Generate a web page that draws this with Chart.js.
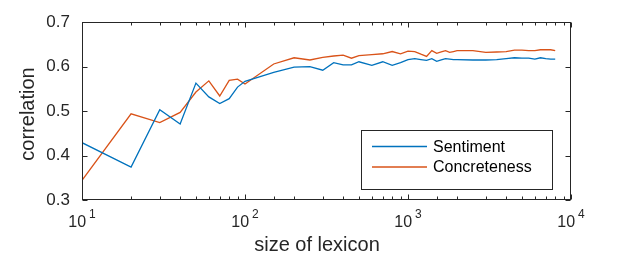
<!DOCTYPE html>
<html lang="en">
<head>
<meta charset="UTF-8">
<title>Lexicon size vs correlation</title>
<script src="https://cdn.jsdelivr.net/npm/chart.js@4"></script>
<style>
  html, body { margin: 0; padding: 0; background: #ffffff; }
  #grafico { display: block; }
</style>
</head>
<body>
<canvas id="grafico" width="630" height="263"></canvas>

<script>
  // dados
  var lexiconSize = [10, 20, 30, 40, 50, 60, 70, 80, 90, 100,
    150, 200, 250, 300, 350, 400, 450, 500, 600, 700, 800, 900, 1000,
    1100, 1200, 1300, 1400, 1500, 1600, 1700, 1800, 1900, 2000,
    2500, 3000, 3500, 4000, 4500, 5000, 5500, 6000, 6500, 7000, 7500, 8000];

  var sentiment = [0.429, 0.374, 0.503, 0.471, 0.563, 0.532, 0.517, 0.528, 0.554, 0.567,
    0.587, 0.599, 0.600, 0.592, 0.609, 0.604, 0.604, 0.611, 0.603, 0.611, 0.603, 0.609, 0.616,
    0.618, 0.616, 0.614, 0.618, 0.612, 0.615, 0.618, 0.617, 0.616, 0.616,
    0.615, 0.615, 0.616, 0.618, 0.620, 0.619, 0.619, 0.617, 0.620, 0.618, 0.617, 0.617];

  var concreteness = [0.344, 0.494, 0.474, 0.497, 0.543, 0.568, 0.534, 0.569, 0.572, 0.561,
    0.606, 0.620, 0.615, 0.621, 0.624, 0.626, 0.619, 0.625, 0.627, 0.629, 0.634, 0.629, 0.635,
    0.634, 0.628, 0.623, 0.636, 0.630, 0.633, 0.636, 0.632, 0.634, 0.636,
    0.636, 0.632, 0.633, 0.634, 0.637, 0.637, 0.636, 0.636, 0.638, 0.638, 0.638, 0.636];

  var seriesNames = ['Sentiment', 'Concreteness'];
  var seriesColors = ['#0072BD', '#D95319'];

  var yTicks = [0.3, 0.4, 0.5, 0.6, 0.7];
  var xTicks = [10, 100, 1000, 10000];
  var xTickExponents = ['1', '2', '3', '4'];

  var xTitle = 'size of lexicon';
  var yTitle = 'correlation';

  var fonte = '"Liberation Sans", Arial, Helvetica, sans-serif';
  var corEixo = '#262626';

  function pontos(valores) {
    return lexiconSize.map(function (x, i) { return { x: x, y: valores[i] }; });
  }

  // caixa, ticks para dentro, rotulos 10^n, titulos e legenda
  var estiloMatlab = {
    id: 'estiloMatlab',
    afterDraw: function (chart) {
      var ctx = chart.ctx;
      var area = chart.chartArea;
      var xs = chart.scales.x;
      var ys = chart.scales.y;
      ctx.save();
      ctx.strokeStyle = corEixo;
      ctx.lineWidth = 1;

      var L = Math.round(area.left) + 0.5;
      var R = Math.round(area.right) - 0.5;
      var T = Math.round(area.top) + 0.5;
      var B = Math.round(area.bottom) - 0.5;
      ctx.strokeRect(L, T, R - L, B - T);

      ctx.beginPath();
      yTicks.forEach(function (v) {
        var py = Math.round(ys.getPixelForValue(v)) + 0.5;
        ctx.moveTo(L, py); ctx.lineTo(L + 5, py);
        ctx.moveTo(R, py); ctx.lineTo(R - 5, py);
      });
      xs.ticks.forEach(function (t) {
        var px = Math.round(xs.getPixelForValue(t.value)) + 0.5;
        var maior = xTicks.indexOf(t.value) >= 0;
        var len = maior ? 5 : 3;
        ctx.moveTo(px, B); ctx.lineTo(px, B - len);
        ctx.moveTo(px, T); ctx.lineTo(px, T + len);
      });
      ctx.stroke();

      // rotulos do eixo x com expoente
      ctx.fillStyle = corEixo;
      ctx.textBaseline = 'alphabetic';
      xTicks.forEach(function (v, i) {
        var px = xs.getPixelForValue(v);
        ctx.font = '16px ' + fonte;
        var wBase = ctx.measureText('10').width;
        ctx.font = '12px ' + fonte;
        var wExp = ctx.measureText(xTickExponents[i]).width;
        var total = wBase + 3 + wExp;
        var x0 = px - total / 2;
        ctx.font = '16px ' + fonte;
        ctx.textAlign = 'left';
        ctx.fillText('10', x0, 227);
        ctx.font = '12px ' + fonte;
        ctx.fillText(xTickExponents[i], x0 + wBase + 3, 218);
      });

      // titulos
      ctx.font = '20px ' + fonte;
      ctx.textAlign = 'center';
      ctx.textBaseline = 'middle';
      ctx.fillText(xTitle, 317, 245);
      ctx.save();
      ctx.translate(28, 114);
      ctx.rotate(-Math.PI / 2);
      ctx.fillText(yTitle, 0, 0);
      ctx.restore();

      // legenda
      var lx = 361.5, ly = 130.5, lw = 191, lh = 59;
      ctx.fillStyle = '#ffffff';
      ctx.fillRect(lx, ly, lw, lh);
      ctx.strokeStyle = corEixo;
      ctx.strokeRect(lx, ly, lw, lh);
      ctx.font = '16px ' + fonte;
      ctx.textAlign = 'left';
      ctx.textBaseline = 'middle';
      chart.data.datasets.forEach(function (ds, i) {
        var cy = 146.5 + i * 20.5;
        ctx.strokeStyle = ds.borderColor;
        ctx.lineWidth = 1.3;
        ctx.beginPath();
        ctx.moveTo(372, cy); ctx.lineTo(427, cy);
        ctx.stroke();
        ctx.fillStyle = '#000000';
        ctx.fillText(ds.label, 433, cy + 1);
      });
      ctx.restore();
    }
  };

  new Chart(document.getElementById('grafico'), {
    type: 'line',
    data: {
      datasets: [
        {
          label: seriesNames[0],
          data: pontos(sentiment),
          borderColor: seriesColors[0],
          borderWidth: 1.3,
          pointRadius: 0,
          tension: 0,
          fill: false
        },
        {
          label: seriesNames[1],
          data: pontos(concreteness),
          borderColor: seriesColors[1],
          borderWidth: 1.3,
          pointRadius: 0,
          tension: 0,
          fill: false
        }
      ]
    },
    options: {
      responsive: false,
      animation: false,
      devicePixelRatio: 1,
      layout: { padding: { top: 19, right: 59, bottom: 0, left: 0 } },
      plugins: {
        legend: { display: false },
        tooltip: { enabled: false }
      },
      scales: {
        x: {
          type: 'logarithmic',
          min: 10,
          max: 10000,
          grid: { display: false, drawTicks: false },
          border: { display: false },
          ticks: { display: false, autoSkip: false },
          afterFit: function (scale) { scale.height = 63; }
        },
        y: {
          min: 0.3,
          max: 0.7,
          grid: { display: false, drawTicks: false },
          border: { display: false },
          afterBuildTicks: function (scale) {
            scale.ticks = yTicks.map(function (v) { return { value: v }; });
          },
          ticks: {
            padding: 12,
            color: corEixo,
            font: { family: fonte, size: 17 },
            callback: function (v) { return Number(v).toFixed(1); }
          },
          afterFit: function (scale) { scale.width = 82; }
        }
      }
    },
    plugins: [estiloMatlab]
  });
</script>
</body>
</html>
